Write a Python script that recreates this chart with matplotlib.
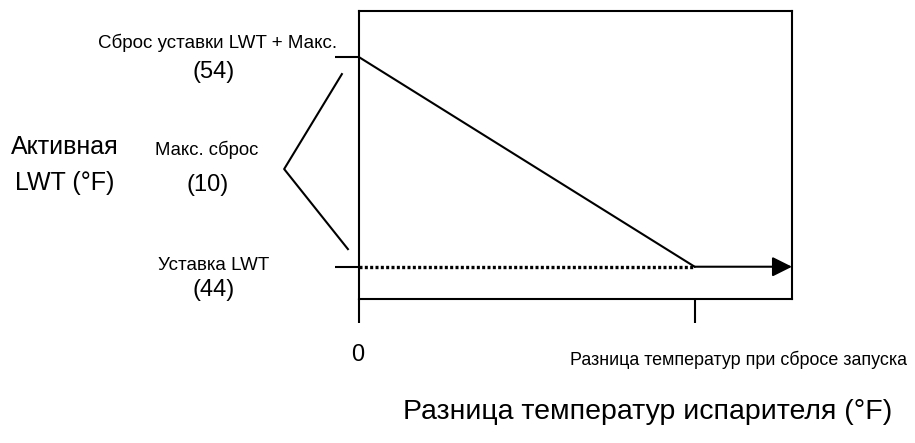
import matplotlib
matplotlib.use('Agg')
import matplotlib.pyplot as plt

plt.rcParams['font.family'] = ['Liberation Sans', 'DejaVu Sans']

# значения схемы сброса уставки
lwt_setpoint = 44
max_reset = 10
lwt_max = lwt_setpoint + max_reset      # 54
start_delta = 10                        # разница температур при сбросе запуска
x_ticks = [0, start_delta]
y_ticks = [lwt_setpoint, lwt_max]
reset_x = [0, start_delta]
reset_y = [lwt_max, lwt_setpoint]

W, H = 915, 443
fig = plt.figure(figsize=(W / 100, H / 100), dpi=100)
ax = fig.add_axes([359 / W, 1 - 299 / H, (792 - 359) / W, (299 - 11) / H])
ax.set_xlim(0, 12.9)
ax.set_ylim(42.46, 56.2)

for s in ax.spines.values():
    s.set_linewidth(1.5)

ax.set_xticks(x_ticks)
ax.set_yticks(y_ticks)
ax.set_xticklabels([])
ax.set_yticklabels([])
ax.tick_params(direction='out', length=17, width=1.5, color='black')

# линия сброса
ax.plot(reset_x, reset_y, color='black', lw=1.5)
# уставка (пунктир)
ax.plot(reset_x, [lwt_setpoint, lwt_setpoint], color='black', lw=2.4,
        linestyle=(0, (0.9, 0.7)))
# стрелка после сброса запуска
ax.annotate('', xy=(12.9, lwt_setpoint), xytext=(start_delta, lwt_setpoint),
            arrowprops=dict(arrowstyle='-|>,head_length=1.2,head_width=0.6',
                            color='black', lw=1.5, shrinkA=0, shrinkB=0))

# скобка "Макс. сброс"
mid = (lwt_max + lwt_setpoint) / 2
ax.plot([-0.51, -2.23, -0.33], [lwt_max - 0.81, mid - 0.34, lwt_setpoint + 0.84],
        color='black', lw=1.5, clip_on=False)


def ftext(px, py, s, size):
    fig.text(px / W, 1 - py / H, s, ha='center', va='center', fontsize=size)


ftext(218, 43, 'Сброс уставки LWT + Макс.', 13.5)
ftext(214, 72, '(%d)' % lwt_max, 17)
ftext(65, 147, 'Активная', 18)
ftext(65, 183, 'LWT (°F)', 18)
ftext(207, 150, 'Макс. сброс', 13.3)
ftext(208, 185, '(%d)' % max_reset, 17)
ftext(214, 266, 'Уставка LWT', 13.5)
ftext(214, 290, '(%d)' % lwt_setpoint, 17)
ftext(358, 355, '0', 17)
ftext(739, 360, 'Разница температур при сбросе запуска', 12.9)
ftext(648, 412, 'Разница температур испарителя (°F)', 20.5)

fig.savefig('out.png', dpi=100)
